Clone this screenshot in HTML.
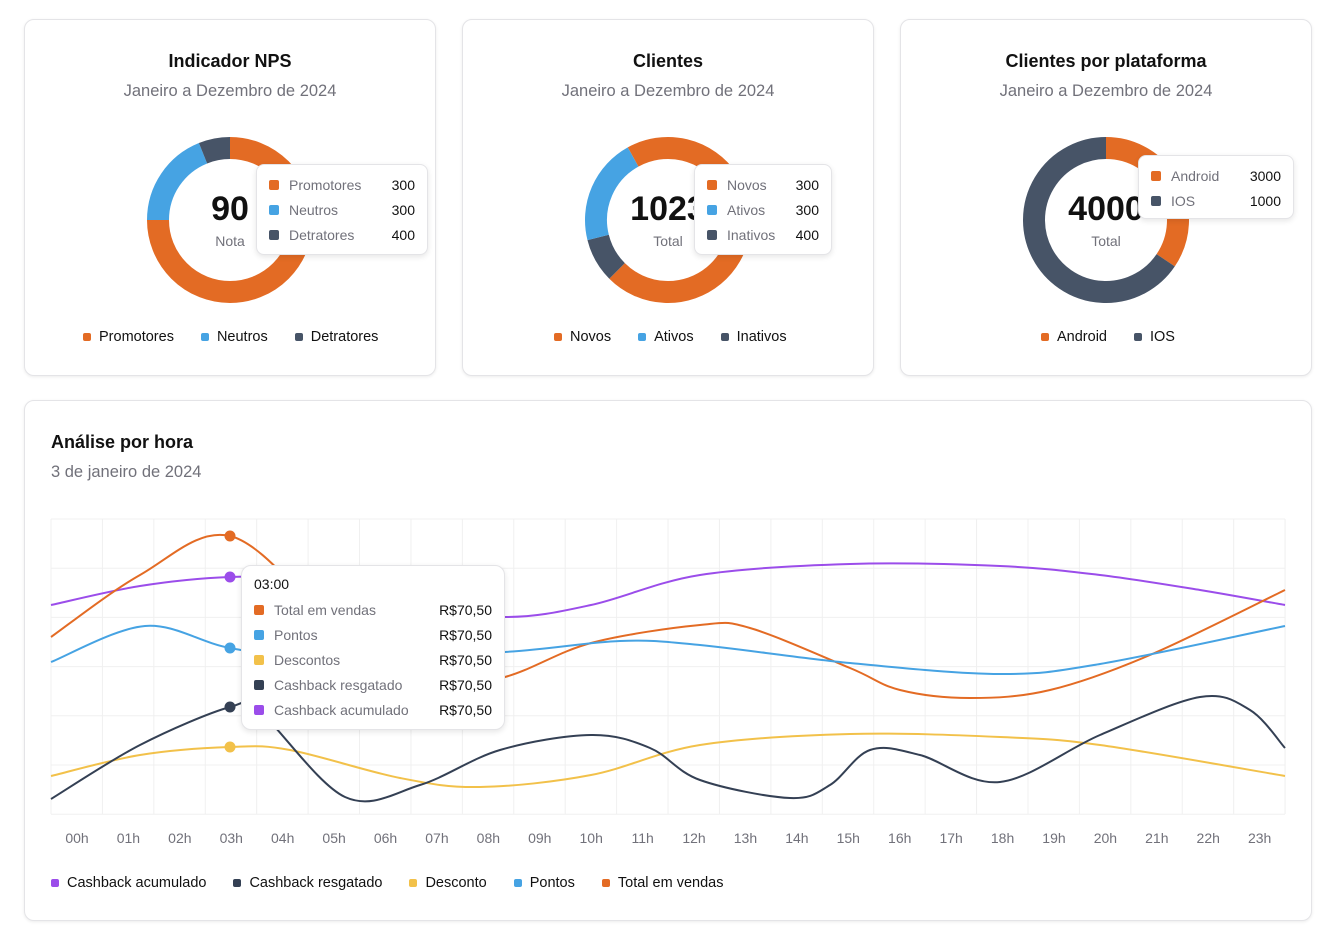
<!DOCTYPE html>
<html><head><meta charset="utf-8"><style>
*{box-sizing:border-box;margin:0;padding:0}
body{width:1330px;height:934px;background:#fff;font-family:"Liberation Sans",sans-serif;position:relative;overflow:hidden;color:#111}
.card{position:absolute;background:#fff;border:1px solid #e4e4e7;border-radius:10px;box-shadow:0 1px 3px rgba(0,0,0,.08)}
.t{position:absolute;width:100%;text-align:center;font-size:18px;font-weight:bold;color:#111}
.s{position:absolute;width:100%;text-align:center;font-size:16.5px;color:#71717a}
.tip{position:absolute;background:#fff;border:1px solid #e4e4e7;border-radius:8px;box-shadow:0 2px 6px rgba(0,0,0,.1);font-size:14px}
.row{position:absolute;left:12px;right:12px;height:18px;display:flex;align-items:center}
.sw{width:10px;height:10px;border-radius:2px;margin-right:10px}
.row .l{color:#71717a;flex:1}
.row .v{color:#111}
.leg{position:absolute;display:flex;font-size:14.5px;color:#111;align-items:center}
.leg span{display:flex;align-items:center;margin-right:27px}
.leg i{display:inline-block;width:8px;height:8px;border-radius:2px;margin-right:8px}
.big{position:absolute;width:166px;text-align:center;font-size:34px;font-weight:bold;color:#111}
.sm{position:absolute;width:166px;text-align:center;font-size:14px;color:#71717a}
</style></head><body>

<div class="card" style="left:24px;top:19px;width:412px;height:357px">
 <div class="t" style="top:31px">Indicador NPS</div>
 <div class="s" style="top:62px">Janeiro a Dezembro de 2024</div>
</div>
<div class="card" style="left:462px;top:19px;width:412px;height:357px">
 <div class="t" style="top:31px">Clientes</div>
 <div class="s" style="top:62px">Janeiro a Dezembro de 2024</div>
</div>
<div class="card" style="left:900px;top:19px;width:412px;height:357px">
 <div class="t" style="top:31px">Clientes por plataforma</div>
 <div class="s" style="top:62px">Janeiro a Dezembro de 2024</div>
</div>
<div class="card" style="left:24px;top:400px;width:1288px;height:521px">
 <div style="position:absolute;left:26px;top:31px;font-size:18px;font-weight:bold">Análise por hora</div>
 <div style="position:absolute;left:26px;top:62px;font-size:16.5px;color:#71717a">3 de janeiro de 2024</div>
</div>

<svg id="sv" width="1330" height="934" style="position:absolute;left:0;top:0"></svg>

<div class="big" style="left:147px;top:190px">90</div><div class="sm" style="left:147px;top:233px">Nota</div>
<div class="big" style="left:585px;top:190px">1023</div><div class="sm" style="left:585px;top:233px">Total</div>
<div class="big" style="left:1023px;top:190px">4000</div><div class="sm" style="left:1023px;top:233px">Total</div>

<div class="tip" style="left:256px;top:164px;width:172px;height:91px">
 <div class="row" style="top:11px"><i class="sw" style="background:#e36b24"></i><span class="l">Promotores</span><span class="v">300</span></div>
 <div class="row" style="top:36px"><i class="sw" style="background:#46a3e3"></i><span class="l">Neutros</span><span class="v">300</span></div>
 <div class="row" style="top:61px"><i class="sw" style="background:#475467"></i><span class="l">Detratores</span><span class="v">400</span></div>
</div>
<div class="tip" style="left:694px;top:164px;width:138px;height:91px">
 <div class="row" style="top:11px"><i class="sw" style="background:#e36b24"></i><span class="l">Novos</span><span class="v">300</span></div>
 <div class="row" style="top:36px"><i class="sw" style="background:#46a3e3"></i><span class="l">Ativos</span><span class="v">300</span></div>
 <div class="row" style="top:61px"><i class="sw" style="background:#475467"></i><span class="l">Inativos</span><span class="v">400</span></div>
</div>
<div class="tip" style="left:1138px;top:155px;width:156px;height:64px">
 <div class="row" style="top:11px"><i class="sw" style="background:#e36b24"></i><span class="l">Android</span><span class="v">3000</span></div>
 <div class="row" style="top:36px"><i class="sw" style="background:#475467"></i><span class="l">IOS</span><span class="v">1000</span></div>
</div>

<div class="leg" style="left:83px;top:329px"><span><i style="background:#e36b24"></i>Promotores</span><span><i style="background:#46a3e3"></i>Neutros</span><span><i style="background:#475467"></i>Detratores</span></div>
<div class="leg" style="left:554px;top:329px"><span><i style="background:#e36b24"></i>Novos</span><span><i style="background:#46a3e3"></i>Ativos</span><span><i style="background:#475467"></i>Inativos</span></div>
<div class="leg" style="left:1041px;top:329px"><span><i style="background:#e36b24"></i>Android</span><span><i style="background:#475467"></i>IOS</span></div>

<div class="leg" style="left:51px;top:875px"><span><i style="background:#9b4dea"></i>Cashback acumulado</span><span><i style="background:#344054"></i>Cashback resgatado</span><span><i style="background:#f2c14a"></i>Desconto</span><span><i style="background:#46a3e3"></i>Pontos</span><span><i style="background:#e36b24"></i>Total em vendas</span></div>

<div class="tip" style="left:241px;top:565px;width:264px;height:165px;border-radius:10px">
 <div style="position:absolute;left:12px;top:10px;font-size:14px;color:#111">03:00</div>
 <div class="row" style="top:35px"><i class="sw" style="background:#e36b24"></i><span class="l">Total em vendas</span><span class="v">R$70,50</span></div>
 <div class="row" style="top:60px"><i class="sw" style="background:#46a3e3"></i><span class="l">Pontos</span><span class="v">R$70,50</span></div>
 <div class="row" style="top:85px"><i class="sw" style="background:#f2c14a"></i><span class="l">Descontos</span><span class="v">R$70,50</span></div>
 <div class="row" style="top:110px"><i class="sw" style="background:#344054"></i><span class="l">Cashback resgatado</span><span class="v">R$70,50</span></div>
 <div class="row" style="top:135px"><i class="sw" style="background:#9b4dea"></i><span class="l">Cashback acumulado</span><span class="v">R$70,50</span></div>
</div>

<script>
var sv=document.getElementById('sv'),h='';
function arc(cx,cy,r,a0,a1,c){var p=function(a){a=(a-90)*Math.PI/180;return [cx+r*Math.cos(a),cy+r*Math.sin(a)]};
var s=p(a0),e=p(a1),l=(a1-a0)>180?1:0;
h+='<path d="M'+s[0]+' '+s[1]+' A'+r+' '+r+' 0 '+l+' 1 '+e[0]+' '+e[1]+'" fill="none" stroke="'+c+'" stroke-width="22"/>';}
var O='#e36b24',B='#46a3e3',D='#475467';
arc(230,220,72,0,270,O);arc(230,220,72,270,338,B);arc(230,220,72,338,360,D);
arc(668,220,72,-29,225,O);arc(668,220,72,225,256,D);arc(668,220,72,256,331,B);
arc(1106,220,72,0,124,O);arc(1106,220,72,124,360,D);
for(var i=0;i<=24;i++){var x=51+i*51.42;h+='<line x1="'+x+'" y1="519" x2="'+x+'" y2="814" stroke="#f0f0f0"/>';}
for(var j=0;j<7;j++){var y=519+j*49.2;h+='<line x1="51" y1="'+y+'" x2="1285" y2="'+y+'" stroke="#f0f0f0"/>';}
for(var i=0;i<24;i++){var x=77+i*51.42;h+='<text x="'+x+'" y="843" text-anchor="middle" font-size="14" fill="#71717a" font-family="Liberation Sans">'+(i<10?'0':'')+i+'h</text>';}
function cr(pts,c){var d='M'+pts[0][0]+' '+pts[0][1];for(var i=0;i<pts.length-1;i++){var p0=pts[Math.max(0,i-1)],p1=pts[i],p2=pts[i+1],p3=pts[Math.min(pts.length-1,i+2)];
d+=' C'+(p1[0]+(p2[0]-p0[0])/6)+' '+(p1[1]+(p2[1]-p0[1])/6)+' '+(p2[0]-(p3[0]-p1[0])/6)+' '+(p2[1]-(p3[1]-p1[1])/6)+' '+p2[0]+' '+p2[1];}
h+='<path d="'+d+'" fill="none" stroke="'+c+'" stroke-width="2"/>';}
cr([[51,605],[140,586],[230,577],[300,580],[400,605],[505,617],[591,605],[700,575],[850,564],[1000,566],[1100,575],[1200,590],[1285,605]],'#9b4dea');
cr([[51,637],[140,575],[230,536],[330,620],[420,690],[505,677],[591,643],[700,625],[750,628],[850,668],[900,690],[970,698],[1050,690],[1150,655],[1285,590]],O);
cr([[51,662],[145,626],[230,648],[330,660],[505,652],[620,641],[700,645],[850,663],[1000,674],[1100,664],[1285,626]],B);
cr([[51,776],[140,755],[230,747],[290,750],[400,778],[480,787],[591,775],[700,745],[850,734],[1000,737],[1100,745],[1285,776]],'#f2c14a');
cr([[51,799],[140,745],[230,707],[260,712],[345,797],[420,785],[500,750],[591,735],[650,748],[700,780],[790,798],[830,785],[870,750],[920,755],[1000,782],[1100,735],[1200,697],[1250,710],[1285,748]],'#344054');
[[230,536,O],[230,577,'#9b4dea'],[230,648,B],[230,707,'#344054'],[230,747,'#f2c14a']].forEach(function(p){h+='<circle cx="'+p[0]+'" cy="'+p[1]+'" r="5.5" fill="'+p[2]+'"/>';});
sv.innerHTML=h;
</script>
</body></html>
